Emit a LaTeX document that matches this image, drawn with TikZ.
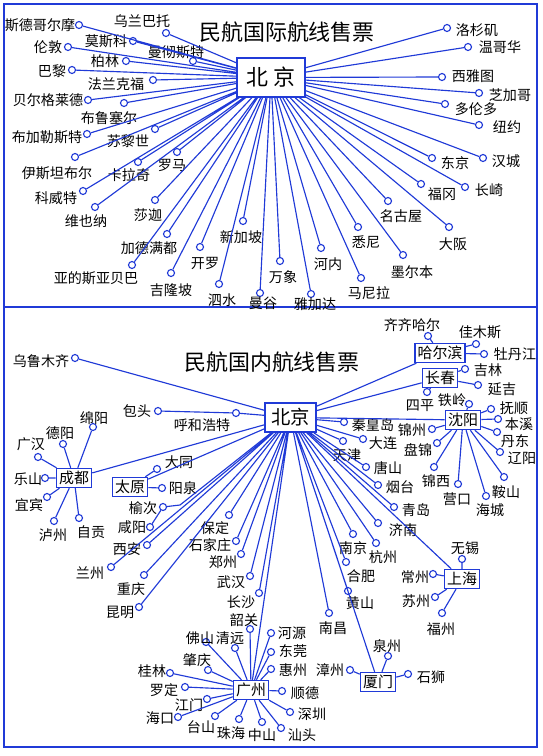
\documentclass[tikz,border=0pt]{standalone}
\usepackage{fontspec}
\setmainfont{Noto Sans CJK SC}
\usetikzlibrary{positioning}

\definecolor{lineblue}{RGB}{32,58,215}

\begin{document}
\begin{tikzpicture}[
  x=0.02cm, y=-0.02cm,
  stop/.style={circle, draw=lineblue, fill=white, line width=0.65pt, inner sep=0pt, minimum size=0.14cm},
  lab/.style={font=\fontsize{8}{8}\selectfont, inner sep=0pt},
  route/.style={draw=lineblue, line width=0.65pt},
  hub/.style={draw=lineblue, fill=white, line width=0.8pt, inner xsep=1.5pt, inner ysep=0pt, minimum height=0.38cm, font=\fontsize{8.5}{8.5}\selectfont},
  capital/.style={draw=lineblue, fill=white, line width=0.9pt, inner sep=0pt},
  heading/.style={font=\fontsize{12.5}{12.5}\selectfont, inner sep=0pt},
  frame/.style={draw=lineblue, line width=1.1pt},
]
\useasboundingbox (0,0) rectangle (543,756);

% --- frame ---
\draw[frame] (4,4) rectangle (537,747);
\draw[frame] (4,307) -- (537,307);

% --- International routes (top) ---
\node[heading] (t1) at (287,32) {民航国际航线售票};
\node[capital, minimum width=1.36cm, minimum height=0.78cm, font=\fontsize{12.5}{12.5}\selectfont] (bj) at (271,77.5) {北\hspace{3pt}京};

\node[stop] (sdg) at (79,25) {};   \node[lab] (sdg-t) at (40,25) {斯德哥尔摩};
\node[stop] (wlbt) at (166,33) {};  \node[lab] (wlbt-t) at (142,21) {乌兰巴托};
\node[stop] (msk) at (133,41) {};   \node[lab] (msk-t) at (106,41) {莫斯科};
\node[stop] (ld) at (68,47) {};     \node[lab] (ld-t) at (48,47) {伦敦};
\node[stop] (mcst) at (193,61) {};  \node[lab] (mcst-t) at (176,52) {曼彻斯特};
\node[stop] (bl) at (126,61) {};    \node[lab] (bl-t) at (105,61) {柏林};
\node[stop] (bli) at (72,70) {};    \node[lab] (bli-t) at (52,71) {巴黎};
\node[stop] (flkf) at (153,80) {};  \node[lab] (flkf-t) at (116,84) {法兰克福};
\node[stop] (begl) at (88,100) {};  \node[lab] (begl-t) at (48,100) {贝尔格莱德};
\node[stop] (bls) at (124,103) {};  \node[lab] (bls-t) at (109,118) {布鲁塞尔};
\node[stop] (bjls) at (87,134) {};  \node[lab] (bjls-t) at (47,137) {布加勒斯特};
\node[stop] (slsh) at (155,129) {}; \node[lab] (slsh-t) at (128,141) {苏黎世};
\node[stop] (ystb) at (75,157) {};  \node[lab] (ystb-t) at (57,173) {伊斯坦布尔};
\node[stop] (lm) at (177,152) {};   \node[lab] (lm-t) at (172,165) {罗马};
\node[stop] (klq) at (138,162) {};  \node[lab] (klq-t) at (129,175) {卡拉奇};
\node[stop] (kwt) at (83,191) {};   \node[lab] (kwt-t) at (56,198) {科威特};
\node[stop] (wyn) at (95,207) {};   \node[lab] (wyn-t) at (86,221) {维也纳};
\node[stop] (sj) at (155,200) {};   \node[lab] (sj-t) at (148,215) {莎迦};
\node[stop] (jdmd) at (167,234) {}; \node[lab] (jdmd-t) at (149,248) {加德满都};
\node[stop] (kl) at (200,247) {};   \node[lab] (kl-t) at (205,263) {开罗};
\node[stop] (xjp) at (243,221) {};  \node[lab] (xjp-t) at (241,237) {新加坡};
\node[stop] (ydsy) at (132,265) {}; \node[lab] (ydsy-t) at (96,278) {亚的斯亚贝巴};
\node[stop] (jlp) at (171,273) {};  \node[lab] (jlp-t) at (171,290) {吉隆坡};
\node[stop] (ss) at (219,284) {};   \node[lab] (ss-t) at (222,300) {泗水};
\node[stop] (mg) at (260,293) {};   \node[lab] (mg-t) at (263,303) {曼谷};
\node[stop] (wx) at (280,261) {};   \node[lab] (wx-t) at (283,277) {万象};
\node[stop] (yjd) at (311,294) {};  \node[lab] (yjd-t) at (315,304) {雅加达};
\node[stop] (hn) at (321,248) {};   \node[lab] (hn-t) at (328,264) {河内};
\node[stop] (xn) at (358,227) {};   \node[lab] (xn-t) at (366,242) {悉尼};
\node[stop] (mnl) at (361,278) {};  \node[lab] (mnl-t) at (369,293) {马尼拉};
\node[stop] (meb) at (403,255) {};  \node[lab] (meb-t) at (412,272) {墨尔本};
\node[stop] (mgw) at (388,201) {};  \node[lab] (mgw-t) at (401,216) {名古屋};
\node[stop] (osk) at (449,227) {};  \node[lab] (osk-t) at (453,244) {大阪};
\node[stop] (fg) at (421,184) {};   \node[lab] (fg-t) at (442,194) {福冈};
\node[stop] (cq) at (465,187) {};   \node[lab] (cq-t) at (489,190) {长崎};
\node[stop] (tky) at (432,158) {};  \node[lab] (tky-t) at (455,163) {东京};
\node[stop] (hc) at (483,158) {};   \node[lab] (hc-t) at (506,161) {汉城};
\node[stop] (lsj) at (447,28) {};   \node[lab] (lsj-t) at (477,30) {洛杉矶};
\node[stop] (wgh) at (468,47) {};   \node[lab] (wgh-t) at (500,47) {温哥华};
\node[stop] (xyt) at (442,77) {};   \node[lab] (xyt-t) at (473,76) {西雅图};
\node[stop] (zjg) at (479,93) {};   \node[lab] (zjg-t) at (510,95) {芝加哥};
\node[stop] (dld) at (445,104) {};  \node[lab] (dld-t) at (476,109) {多伦多};
\node[stop] (ny) at (479,125) {};   \node[lab] (ny-t) at (507,127) {纽约};

\draw[route] (bj) -- (sdg) (bj) -- (wlbt) (bj) -- (msk) (bj) -- (ld) (bj) -- (mcst)
  (bj) -- (bl) (bj) -- (bli) (bj) -- (flkf) (bj) -- (begl) (bj) -- (bls) (bj) -- (bjls);
\draw[route] (bj) -- (slsh) (bj) -- (ystb) (bj) -- (lm) (bj) -- (klq) (bj) -- (kwt)
  (bj) -- (wyn) (bj) -- (sj) (bj) -- (jdmd) (bj) -- (kl) (bj) -- (xjp) (bj) -- (ydsy);
\draw[route] (bj) -- (jlp) (bj) -- (ss) (bj) -- (mg) (bj) -- (wx) (bj) -- (yjd)
  (bj) -- (hn) (bj) -- (xn) (bj) -- (mnl) (bj) -- (meb) (bj) -- (mgw) (bj) -- (osk);
\draw[route] (bj) -- (fg) (bj) -- (cq) (bj) -- (tky) (bj) -- (hc) (bj) -- (lsj)
  (bj) -- (wgh) (bj) -- (xyt) (bj) -- (zjg) (bj) -- (dld) (bj) -- (ny);

% --- Domestic routes (bottom) ---
\node[heading] (t2) at (272,362) {民航国内航线售票};
\node[capital, minimum width=1.02cm, minimum height=0.58cm, font=\fontsize{11}{11}\selectfont] (bjd) at (290.5,417.5) {北京};

% hub cities
\node[hub] (hrb) at (440,353) {哈尔滨};
\node[hub] (cc) at (440,378) {长春};
\node[hub] (sy) at (463,420) {沈阳};
\node[hub] (cd) at (74,478) {成都};
\node[hub] (ty) at (130,487) {太原};
\node[hub] (sh) at (462,579) {上海};
\node[hub] (gz) at (251,690) {广州};
\node[hub] (xm) at (378,682) {厦门};

% north and west
\node[stop] (wlmq) at (75,358) {};  \node[lab] (wlmq-t) at (41,361) {乌鲁木齐};
\node[stop] (bt) at (158,411) {};   \node[lab] (bt-t) at (137,411) {包头};
\node[stop] (hhht) at (236,413) {}; \node[lab] (hhht-t) at (202,425) {呼和浩特};

% north-east
\node[stop] (qqhe) at (428,336) {}; \node[lab] (qqhe-t) at (412,325) {齐齐哈尔};
\node[stop] (jms) at (476,344) {};  \node[lab] (jms-t) at (480,332) {佳木斯};
\node[stop] (mdj) at (484,354) {};  \node[lab] (mdj-t) at (515,354) {牡丹江};
\node[stop] (jl) at (465,369) {};   \node[lab] (jl-t) at (488,370) {吉林};
\node[stop] (yj) at (478,385) {};   \node[lab] (yj-t) at (502,389) {延吉};
\node[stop] (sp) at (427,392) {};   \node[lab] (sp-t) at (420,406) {四平};
\node[stop] (tl) at (469,404) {};   \node[lab] (tl-t) at (452,400) {铁岭};
\node[stop] (fs) at (491,409) {};   \node[lab] (fs-t) at (514,408) {抚顺};
\node[stop] (bx) at (498,419) {};   \node[lab] (bx-t) at (519,424) {本溪};
\node[stop] (dd) at (497,432) {};   \node[lab] (dd-t) at (515,441) {丹东};
\node[stop] (lyg) at (500,452) {};  \node[lab] (lyg-t) at (522,458) {辽阳};
\node[stop] (as) at (504,477) {};   \node[lab] (as-t) at (506,492) {鞍山};
\node[stop] (hcg) at (486,496) {};  \node[lab] (hcg-t) at (490,510) {海城};
\node[stop] (yk) at (458,484) {};   \node[lab] (yk-t) at (457,499) {营口};
\node[stop] (jx) at (434,467) {};   \node[lab] (jx-t) at (436,481) {锦西};
\node[stop] (pj) at (437,443) {};   \node[lab] (pj-t) at (418,450) {盘锦};
\node[stop] (jz) at (432,429) {};   \node[lab] (jz-t) at (412,430) {锦州};

% east coast
\node[stop] (qhd) at (344,422) {};  \node[lab] (qhd-t) at (373,425) {秦皇岛};
\node[stop] (dl) at (363,439) {};   \node[lab] (dl-t) at (383,443) {大连};
\node[stop] (tj) at (343,441) {};   \node[lab] (tj-t) at (347,455) {天津};
\node[stop] (ts) at (366,467) {};   \node[lab] (ts-t) at (388,468) {唐山};
\node[stop] (yt) at (378,485) {};   \node[lab] (yt-t) at (400,487) {烟台};
\node[stop] (qd) at (394,507) {};   \node[lab] (qd-t) at (416,510) {青岛};
\node[stop] (jn) at (378,523) {};   \node[lab] (jn-t) at (403,530) {济南};
\node[stop] (nj) at (353,534) {};   \node[lab] (nj-t) at (353,548) {南京};
\node[stop] (hz) at (376,543) {};   \node[lab] (hz-t) at (383,557) {杭州};
\node[stop] (hf) at (346,562) {};   \node[lab] (hf-t) at (361,576) {合肥};
\node[stop] (hs) at (348,591) {};   \node[lab] (hs-t) at (360,603) {黄山};
\node[stop] (nc) at (329,613) {};   \node[lab] (nc-t) at (333,628) {南昌};
\node[stop] (wux) at (462,559) {};  \node[lab] (wux-t) at (465,548) {无锡};
\node[stop] (czh) at (433,574) {};  \node[lab] (czh-t) at (415,577) {常州};
\node[stop] (szh) at (435,597) {};  \node[lab] (szh-t) at (416,601) {苏州};
\node[stop] (fz) at (442,613) {};   \node[lab] (fz-t) at (441,629) {福州};
\node[stop] (qz) at (388,656) {};   \node[lab] (qz-t) at (387,646) {泉州};
\node[stop] (zz) at (350,670) {};   \node[lab] (zz-t) at (330,670) {漳州};
\node[stop] (ssh) at (408,674) {};  \node[lab] (ssh-t) at (431,677) {石狮};

% centre and south-west
\node[stop] (dt) at (157,469) {};   \node[lab] (dt-t) at (179,462) {大同};
\node[stop] (yq) at (162,488) {};   \node[lab] (yq-t) at (183,488) {阳泉};
\node[stop] (yc) at (163,507) {};   \node[lab] (yc-t) at (143,508) {榆次};
\coordinate (yc-k) at (180,505);
\node[stop] (xy) at (150,527) {};   \node[lab] (xy-t) at (132,527) {咸阳};
\node[stop] (xa) at (147,545) {};   \node[lab] (xa-t) at (127,549) {西安};
\node[stop] (lz) at (111,567) {};   \node[lab] (lz-t) at (90,573) {兰州};
\node[stop] (cqg) at (144,575) {};  \node[lab] (cqg-t) at (131,589) {重庆};
\node[stop] (km) at (139,607) {};   \node[lab] (km-t) at (120,612) {昆明};
\node[stop] (bd) at (229,515) {};   \node[lab] (bd-t) at (215,528) {保定};
\node[stop] (sjz) at (236,541) {};  \node[lab] (sjz-t) at (210,545) {石家庄};
\node[stop] (zhz) at (241,554) {};  \node[lab] (zhz-t) at (223,562) {郑州};
\node[stop] (wh) at (250,576) {};   \node[lab] (wh-t) at (231,582) {武汉};
\node[stop] (cs) at (259,593) {};   \node[lab] (cs-t) at (241,602) {长沙};
\node[stop] (lsh) at (45,478) {};   \node[lab] (lsh-t) at (28,479) {乐山};
\node[stop] (yb) at (47,497) {};    \node[lab] (yb-t) at (29,505) {宜宾};
\node[stop] (lzh) at (54,521) {};   \node[lab] (lzh-t) at (53,535) {泸州};
\node[stop] (zg) at (79,518) {};    \node[lab] (zg-t) at (91,532) {自贡};
\node[stop] (gh) at (38,457) {};    \node[lab] (gh-t) at (31,444) {广汉};
\node[stop] (dy) at (63,444) {};    \node[lab] (dy-t) at (60,433) {德阳};
\node[stop] (my) at (93,427) {};    \node[lab] (my-t) at (94,418) {绵阳};

% south
\node[stop] (sg) at (250,629) {};   \node[lab] (sg-t) at (244,620) {韶关};
\node[stop] (fsh) at (206,642) {};  \node[lab] (fsh-t) at (200,638) {佛山};
\node[stop] (qy) at (235,648) {};   \node[lab] (qy-t) at (230,638) {清远};
\node[stop] (zq) at (208,670) {};   \node[lab] (zq-t) at (197,660) {肇庆};
\node[stop] (glin) at (170,673) {}; \node[lab] (glin-t) at (152,671) {桂林};
\node[stop] (ldg) at (185,687) {};  \node[lab] (ldg-t) at (164,690) {罗定};
\node[stop] (jm) at (207,699) {};   \node[lab] (jm-t) at (189,705) {江门};
\node[stop] (hk) at (178,717) {};   \node[lab] (hk-t) at (160,718) {海口};
\node[stop] (tsh) at (215,716) {};  \node[lab] (tsh-t) at (201,727) {台山};
\node[stop] (zh) at (239,719) {};   \node[lab] (zh-t) at (231,733) {珠海};
\node[stop] (zs) at (262,722) {};   \node[lab] (zs-t) at (262,735) {中山};
\node[stop] (st) at (281,728) {};   \node[lab] (st-t) at (302,735) {汕头};
\node[stop] (szn) at (290,712) {};  \node[lab] (szn-t) at (312,714) {深圳};
\node[stop] (sd) at (282,691) {};   \node[lab] (sd-t) at (305,693) {顺德};
\node[stop] (hzh) at (271,669) {};  \node[lab] (hzh-t) at (293,670) {惠州};
\node[stop] (dg) at (271,652) {};   \node[lab] (dg-t) at (293,651) {东莞};
\node[stop] (hy) at (271,633) {};   \node[lab] (hy-t) at (292,633) {河源};

% routes out of Beijing
\draw[route] (bjd) -- (wlmq) (bjd) -- (hhht) -- (bt) (bjd) -- (hrb) (bjd) -- (cc) (bjd) -- (sy)
  (bjd) -- (qhd) (bjd) -- (dl) (bjd) -- (tj) (bjd) -- (ts) (bjd) -- (yt) (bjd) -- (qd);
\draw[route] (bjd) -- (jn) (bjd) -- (nj) (bjd) -- (hz) (bjd) -- (hf) (bjd) -- (hs)
  (bjd) -- (sh) (bjd) -- (xm) (bjd) -- (nc) (bjd) -- (gz) (bjd) -- (cs) (bjd) -- (wh);
\draw[route] (bjd) -- (zhz) (bjd) -- (sjz) (bjd) -- (bd) (bjd) -- (km) (bjd) -- (cqg)
  (bjd) -- (lz) (bjd) -- (xa) (bjd) -- (ty) (bjd) -- (cd);
\draw[route] (bjd) -- (yc-k) -- (yc);

% feeder routes
\draw[route] (hrb) -- (qqhe) (hrb) -- (jms) (hrb) -- (mdj);
\draw[route] (cc) -- (jl) (cc) -- (yj) (cc) -- (sp);
\draw[route] (sy) -- (tl) (sy) -- (fs) (sy) -- (bx) (sy) -- (dd) (sy) -- (lyg) (sy) -- (as)
  (sy) -- (hcg) (sy) -- (yk) (sy) -- (jx) (sy) -- (pj) (sy) -- (jz);
\draw[route] (ty) -- (dt) (ty) -- (yq) (yc) -- (xy);
\draw[route] (cd) -- (lsh) (cd) -- (yb) (cd) -- (lzh) (cd) -- (zg) (cd) -- (gh) (cd) -- (dy) (cd) -- (my);
\draw[route] (sh) -- (wux) (sh) -- (czh) (sh) -- (szh) (sh) -- (fz);
\draw[route] (xm) -- (qz) (xm) -- (zz) (xm) -- (ssh);
\draw[route] (gz) -- (sg) (gz) -- (fsh) (gz) -- (qy) (gz) -- (zq) (gz) -- (glin) (gz) -- (ldg)
  (gz) -- (jm) (gz) -- (hk) (gz) -- (tsh) (gz) -- (zh) (gz) -- (zs) (gz) -- (st)
  (gz) -- (szn) (gz) -- (sd) (gz) -- (hzh) (gz) -- (dg) (gz) -- (hy);

\end{tikzpicture}
\end{document}
